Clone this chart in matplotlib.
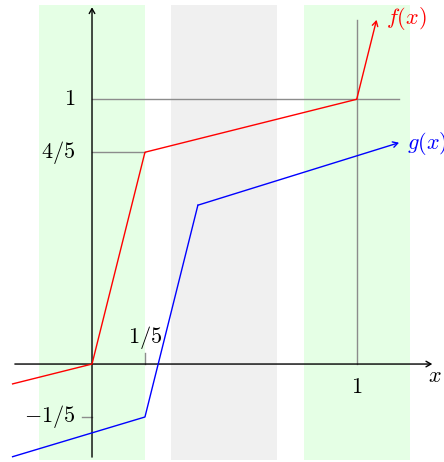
import matplotlib
matplotlib.use("Agg")
import matplotlib.pyplot as plt

plt.rcParams['mathtext.fontset'] = 'cm'
plt.rcParams['font.family'] = ['DejaVu Serif']

# data
f_x = [-0.30, 0.0, 0.2, 1.0, 1.075]
f_y = [-0.075, 0.0, 0.8, 1.0, 1.30]
g_x = [-0.30, 0.2, 0.4, 1.16]
g_y = [-0.35, -0.2, 0.6, 0.836]
green_bands = [(-0.2, 0.2), (0.8, 1.2)]
gray_bands = [(0.3, 0.7)]
ytick_vals = [1.0, 0.8, -0.2]
ytick_labels = ['$1$', '$4/5$', '$-1/5$']
xtick_vals = [0.2, 1.0]
xtick_labels = ['$1/5$', '$1$']

fig = plt.figure(figsize=(4.44, 4.62), dpi=100)
ax = fig.add_axes([0, 0, 1, 1])
ax.set_xlim(-0.3476, 1.3298)
ax.set_ylim(-0.370, 1.375)
ax.axis('off')

ybot, ytop = -0.362, 1.357
for a, b in green_bands:
    ax.fill_between([a, b], ybot, ytop, color='#e5ffe5', lw=0, zorder=0)
for a, b in gray_bands:
    ax.fill_between([a, b], ybot, ytop, color='#f0f0f0', lw=0, zorder=0)

gray = '#8c8c8c'
# guide lines
ax.plot([0, 1.16], [1, 1], color=gray, lw=1.0, zorder=1)
ax.plot([1, 1], [0, 1.30], color=gray, lw=1.0, zorder=1)
ax.plot([0, 0.2], [0.8, 0.8], color=gray, lw=1.0, zorder=1)
ax.plot([0.2, 0.2], [0, 0.04], color=gray, lw=1.0, zorder=1)
ax.plot([-0.038, 0], [-0.2, -0.2], color=gray, lw=1.0, zorder=1)

arrow = '->,head_length=0.35,head_width=0.2'
# axes
ax.annotate('', xy=(1.296, 0), xytext=(-0.302, 0),
            arrowprops=dict(arrowstyle=arrow, color='black', lw=1.0), zorder=3)
ax.annotate('', xy=(0, 1.358), xytext=(0, -0.362),
            arrowprops=dict(arrowstyle=arrow, color='black', lw=1.0), zorder=3)

# functions
ax.plot(f_x[:-1], f_y[:-1], color='red', lw=1.0, zorder=4)
ax.annotate('', xy=(f_x[-1], f_y[-1]), xytext=(f_x[-2], f_y[-2]),
            arrowprops=dict(arrowstyle=arrow, color='red', lw=1.0,
                            shrinkA=0, shrinkB=0), zorder=4)
ax.plot(g_x[:-1], g_y[:-1], color='blue', lw=1.0, zorder=4)
ax.annotate('', xy=(g_x[-1], g_y[-1]), xytext=(g_x[-2], g_y[-2]),
            arrowprops=dict(arrowstyle=arrow, color='blue', lw=1.0,
                            shrinkA=0, shrinkB=0), zorder=4)

fs = 16
ax.text(1.112, 1.305, '$f(x)$', color='red', fontsize=fs, ha='left', va='center')
ax.text(1.19, 0.834, '$g(x)$', color='blue', fontsize=fs, ha='left', va='center')
ax.text(1.295, -0.045, '$x$', color='black', fontsize=fs, ha='center', va='center')

ax.text(-0.062, 1.0, ytick_labels[0], fontsize=fs, ha='right', va='center')
ax.text(-0.062, 0.8, ytick_labels[1], fontsize=fs, ha='right', va='center')
ax.text(-0.062, -0.2, ytick_labels[2], fontsize=fs, ha='right', va='center')
ax.text(0.2, 0.1, xtick_labels[0], fontsize=fs, ha='center', va='center')
ax.text(1.0, -0.085, xtick_labels[1], fontsize=fs, ha='center', va='center')

fig.savefig('out.png', dpi=100)
